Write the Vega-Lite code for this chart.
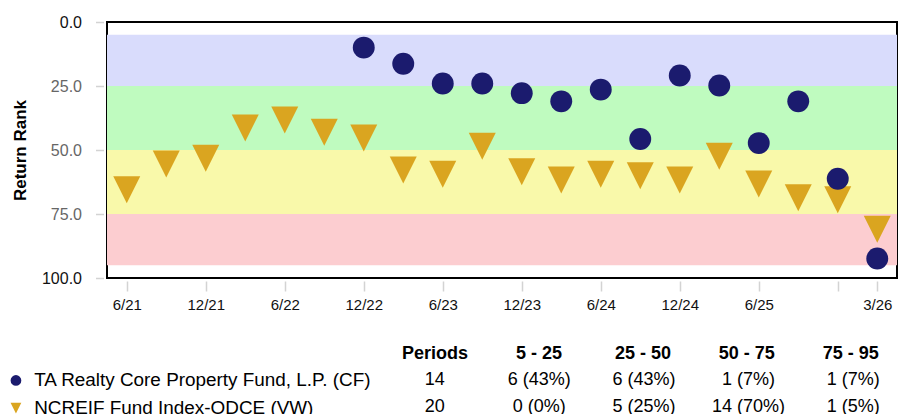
{
  "$schema": "https://vega.github.io/schema/vega-lite/v6.json",
  "padding": {"left": 6, "top": 13, "right": 0, "bottom": 0},
  "background": "#ffffff",
  "config": {"font": "Liberation Sans", "view": {"stroke": null}},
  "spacing": 31,
  "resolve": {"scale": {"color": "independent", "shape": "independent", "x": "independent", "y": "independent"}, "legend": {"color": "independent", "shape": "independent"}},
  "datasets": {
    "bands": [
      {"band": "5 - 25", "lo": 5, "hi": 25},
      {"band": "25 - 50", "lo": 25, "hi": 50},
      {"band": "50 - 75", "lo": 50, "hi": 75},
      {"band": "75 - 95", "lo": 75, "hi": 95}
    ],
    "points": [
      {"series": "NCREIF Fund Index-ODCE (VW)", "q": "6/21", "rank": 65.5},
      {"series": "NCREIF Fund Index-ODCE (VW)", "q": "9/21", "rank": 55.5},
      {"series": "NCREIF Fund Index-ODCE (VW)", "q": "12/21", "rank": 53.2},
      {"series": "NCREIF Fund Index-ODCE (VW)", "q": "3/22", "rank": 41.4},
      {"series": "NCREIF Fund Index-ODCE (VW)", "q": "6/22", "rank": 38.3},
      {"series": "NCREIF Fund Index-ODCE (VW)", "q": "9/22", "rank": 43.1},
      {"series": "NCREIF Fund Index-ODCE (VW)", "q": "12/22", "rank": 45.3},
      {"series": "NCREIF Fund Index-ODCE (VW)", "q": "3/23", "rank": 57.8},
      {"series": "NCREIF Fund Index-ODCE (VW)", "q": "6/23", "rank": 59.5},
      {"series": "NCREIF Fund Index-ODCE (VW)", "q": "9/23", "rank": 48.5},
      {"series": "NCREIF Fund Index-ODCE (VW)", "q": "12/23", "rank": 58.5},
      {"series": "NCREIF Fund Index-ODCE (VW)", "q": "3/24", "rank": 61.7},
      {"series": "NCREIF Fund Index-ODCE (VW)", "q": "6/24", "rank": 59.5},
      {"series": "NCREIF Fund Index-ODCE (VW)", "q": "9/24", "rank": 60.1},
      {"series": "NCREIF Fund Index-ODCE (VW)", "q": "12/24", "rank": 61.7},
      {"series": "NCREIF Fund Index-ODCE (VW)", "q": "3/25", "rank": 52.4},
      {"series": "NCREIF Fund Index-ODCE (VW)", "q": "6/25", "rank": 63.3},
      {"series": "NCREIF Fund Index-ODCE (VW)", "q": "9/25", "rank": 68.7},
      {"series": "NCREIF Fund Index-ODCE (VW)", "q": "12/25", "rank": 69.4},
      {"series": "NCREIF Fund Index-ODCE (VW)", "q": "3/26", "rank": 81.0},
      {"series": "TA Realty Core Property Fund, L.P. (CF)", "q": "12/22", "rank": 10.0},
      {"series": "TA Realty Core Property Fund, L.P. (CF)", "q": "3/23", "rank": 16.3},
      {"series": "TA Realty Core Property Fund, L.P. (CF)", "q": "6/23", "rank": 24.0},
      {"series": "TA Realty Core Property Fund, L.P. (CF)", "q": "9/23", "rank": 24.0},
      {"series": "TA Realty Core Property Fund, L.P. (CF)", "q": "12/23", "rank": 27.8},
      {"series": "TA Realty Core Property Fund, L.P. (CF)", "q": "3/24", "rank": 31.0},
      {"series": "TA Realty Core Property Fund, L.P. (CF)", "q": "6/24", "rank": 26.4},
      {"series": "TA Realty Core Property Fund, L.P. (CF)", "q": "9/24", "rank": 45.7},
      {"series": "TA Realty Core Property Fund, L.P. (CF)", "q": "12/24", "rank": 20.9},
      {"series": "TA Realty Core Property Fund, L.P. (CF)", "q": "3/25", "rank": 24.8},
      {"series": "TA Realty Core Property Fund, L.P. (CF)", "q": "6/25", "rank": 47.3},
      {"series": "TA Realty Core Property Fund, L.P. (CF)", "q": "9/25", "rank": 31.0},
      {"series": "TA Realty Core Property Fund, L.P. (CF)", "q": "12/25", "rank": 61.2},
      {"series": "TA Realty Core Property Fund, L.P. (CF)", "q": "3/26", "rank": 92.4}
    ],
    "header": [
      {"row": "hdr", "col": "Periods"},
      {"row": "hdr", "col": "5 - 25"},
      {"row": "hdr", "col": "25 - 50"},
      {"row": "hdr", "col": "50 - 75"},
      {"row": "hdr", "col": "75 - 95"}
    ],
    "table": [
      {"series": "TA Realty Core Property Fund, L.P. (CF)", "col": "Periods", "value": "14"},
      {"series": "TA Realty Core Property Fund, L.P. (CF)", "col": "5 - 25", "value": "6 (43%)"},
      {"series": "TA Realty Core Property Fund, L.P. (CF)", "col": "25 - 50", "value": "6 (43%)"},
      {"series": "TA Realty Core Property Fund, L.P. (CF)", "col": "50 - 75", "value": "1 (7%)"},
      {"series": "TA Realty Core Property Fund, L.P. (CF)", "col": "75 - 95", "value": "1 (7%)"},
      {"series": "NCREIF Fund Index-ODCE (VW)", "col": "Periods", "value": "20"},
      {"series": "NCREIF Fund Index-ODCE (VW)", "col": "5 - 25", "value": "0 (0%)"},
      {"series": "NCREIF Fund Index-ODCE (VW)", "col": "25 - 50", "value": "5 (25%)"},
      {"series": "NCREIF Fund Index-ODCE (VW)", "col": "50 - 75", "value": "14 (70%)"},
      {"series": "NCREIF Fund Index-ODCE (VW)", "col": "75 - 95", "value": "1 (5%)"}
    ]
  },
  "vconcat": [
    {
      "width": 790,
      "height": 256,
      "view": {"stroke": "#000000", "strokeWidth": 2},
      "layer": [
        {
          "data": {"name": "bands"},
          "mark": {"type": "rect"},
          "encoding": {
            "y": {
              "field": "lo", "type": "quantitative",
              "scale": {"domain": [0, 100], "reverse": true, "nice": false, "zero": true},
              "axis": {
                "values": [0, 25, 50, 75, 100], "format": ".1f",
                "title": "Return Rank", "titleFontSize": 17, "titleFontWeight": "bold", "titleColor": "#000000", "titlePadding": 12,
                "labelFontSize": 16,
                "labelColor": {"condition": {"test": "datum.value == 0 || datum.value == 100", "value": "#111111"}, "value": "#666666"},
                "tickColor": "#d3d3d3", "tickSize": 8, "tickWidth": 1.5, "offset": 3.5, "labelPadding": 14,
                "domain": false, "grid": false
              }
            },
            "y2": {"field": "hi"},
            "color": {
              "field": "band", "type": "nominal",
              "scale": {"domain": ["5 - 25", "25 - 50", "50 - 75", "75 - 95"], "range": ["#d9dcfc", "#bffbbf", "#f9f9aa", "#fccdd0"]},
              "legend": null
            }
          }
        },
        {
          "data": {"name": "points"},
          "transform": [{"filter": "datum.series == 'NCREIF Fund Index-ODCE (VW)'"}],
          "mark": {"type": "point", "filled": true, "opacity": 1, "shape": "M-1,-1L1,-1L0,1Z", "size": 729, "color": "#daa520"},
          "encoding": {
            "x": {
              "field": "q", "type": "ordinal",
              "scale": {"type": "point", "padding": 0.5, "domain": ["6/21","9/21","12/21","3/22","6/22","9/22","12/22","3/23","6/23","9/23","12/23","3/24","6/24","9/24","12/24","3/25","6/25","9/25","12/25","3/26"]},
              "axis": {
                "values": ["6/21","12/21","6/22","12/22","6/23","12/23","6/24","12/24","6/25","12/25","3/26"],
                "labelExpr": "datum.value == '12/25' ? '' : datum.value",
                "title": null, "domain": false, "grid": false,
                "tickColor": "#d3d3d3", "tickSize": 10, "tickWidth": 1.5, "offset": 3,
                "labelFontSize": 15, "labelColor": "#111111", "labelPadding": 6, "labelAngle": 0
              }
            },
            "y": {"field": "rank", "type": "quantitative"}
          }
        },
        {
          "data": {"name": "points"},
          "transform": [{"filter": "datum.series == 'TA Realty Core Property Fund, L.P. (CF)'"}],
          "mark": {"type": "point", "filled": true, "opacity": 1, "shape": "circle", "size": 480, "color": "#1b1b6e"},
          "encoding": {
            "x": {"field": "q", "type": "ordinal"},
            "y": {"field": "rank", "type": "quantitative"}
          }
        }
      ]
    },
    {
      "width": 760,
      "height": 70.5,
      "resolve": {"scale": {"x": "independent"}},
      "layer": [
        {
          "data": {"name": "header"},
          "mark": {"type": "text", "fontSize": 18, "fontWeight": "bold", "color": "#000000"},
          "encoding": {
            "x": {
              "field": "col", "type": "nominal",
              "scale": {"type": "point", "padding": 0.156, "domain": ["_symbol", "_name", "_gap", "Periods", "5 - 25", "25 - 50", "50 - 75", "75 - 95"]},
              "axis": null
            },
            "y": {
              "field": "row", "type": "nominal",
              "scale": {"type": "point", "padding": 0.33, "domain": ["hdr", "TA Realty Core Property Fund, L.P. (CF)", "NCREIF Fund Index-ODCE (VW)"]},
              "axis": null
            },
            "text": {"field": "col"}
          }
        },
        {
          "data": {"name": "table"},
          "mark": {"type": "text", "fontSize": 18, "color": "#000000"},
          "encoding": {
            "x": {
              "field": "col", "type": "nominal",
              "scale": {"type": "point", "padding": 0.1316, "domain": ["_symbol", "_name", "_gap", "Periods", "5 - 25", "25 - 50", "50 - 75", "75 - 95"]},
              "axis": null
            },
            "y": {"field": "series", "type": "nominal", "axis": null},
            "text": {"field": "value"}
          }
        },
        {
          "data": {"name": "table"},
          "transform": [{"filter": "datum.col == 'Periods'"}],
          "mark": {"type": "point", "filled": true, "opacity": 0},
          "encoding": {
            "y": {"field": "series", "type": "nominal", "axis": null},
            "shape": {
              "field": "series", "type": "nominal",
              "scale": {"domain": ["TA Realty Core Property Fund, L.P. (CF)", "NCREIF Fund Index-ODCE (VW)"], "range": ["circle", "M-1,-1L1,-1L0,1Z"]},
              "legend": {"orient": "none", "legendX": -100.5, "legendY": 26, "title": null, "padding": 0, "labelFontSize": 18.9, "labelColor": "#000000", "labelLimit": 0, "symbolSize": 115, "symbolOpacity": 1, "symbolStrokeWidth": 0, "rowPadding": 7.6, "labelOffset": 8.8}
            },
            "color": {
              "field": "series", "type": "nominal",
              "scale": {"domain": ["TA Realty Core Property Fund, L.P. (CF)", "NCREIF Fund Index-ODCE (VW)"], "range": ["#1b1b6e", "#daa520"]}
            }
          }
        }
      ]
    }
  ]
}
